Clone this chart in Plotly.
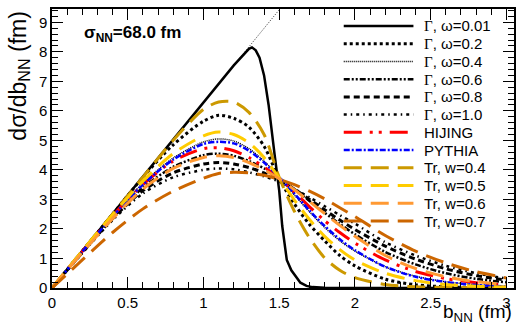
import plotly.graph_objects as go

# ---------------- data ----------------
B = [0, 0.2, 0.4, 0.6, 0.8, 1.0, 1.1, 1.2, 1.3, 1.4, 1.5, 1.6, 1.7, 1.8, 1.9, 2.0, 2.2, 2.4, 2.6, 2.8, 3.0]

B_G001 = [0, 0.2, 0.4, 0.6, 0.8, 1.0, 1.2, 1.3, 1.32, 1.345, 1.37, 1.40, 1.43, 1.47, 1.50, 1.52,
          1.55, 1.58, 1.61, 1.64, 1.68, 1.72, 1.8, 2.0, 2.5, 3.0]
G001 = [0, 1.26, 2.51, 3.77, 5.03, 6.28, 7.54, 8.1, 8.15, 8.05, 7.8, 7.2, 6.2, 4.5, 3.3, 2.1,
        0.95, 0.6, 0.38, 0.18, 0.07, 0.03, 0.01, 0, 0, 0]

G02 = [0, 1.25, 2.5, 3.75, 4.85, 5.65, 5.85, 5.75, 5.45, 4.8, 3.7, 2.85, 2.15, 1.6, 1.1, 0.75, 0.3, 0.11, 0.04, 0.02, 0.01]
G04 = [0, 1.24, 2.45, 3.55, 4.4, 4.95, 5.05, 4.98, 4.72, 4.3, 3.75, 3.15, 2.58, 2.05, 1.6, 1.25, 0.72, 0.4, 0.21, 0.11, 0.06]
G06 = [0, 1.22, 2.38, 3.4, 4.1, 4.5, 4.55, 4.48, 4.3, 4.05, 3.72, 3.35, 2.95, 2.55, 2.17, 1.82, 1.22, 0.8, 0.5, 0.31, 0.19]
G08 = [0, 1.2, 2.35, 3.3, 3.9, 4.2, 4.25, 4.2, 4.08, 3.9, 3.65, 3.35, 3.0, 2.65, 2.3, 1.98, 1.42, 0.98, 0.65, 0.42, 0.27]
G10 = [0, 1.18, 2.3, 3.2, 3.75, 4.0, 4.05, 4.02, 3.92, 3.78, 3.6, 3.35, 3.07, 2.77, 2.47, 2.18, 1.55, 1.1, 0.75, 0.5, 0.32]
HIJING = [0, 1.24, 2.44, 3.5, 4.3, 4.72, 4.75, 4.65, 4.42, 4.1, 3.72, 3.25, 2.75, 2.28, 1.88, 1.52, 0.95, 0.56, 0.32, 0.18, 0.1]
PYTHIA = [0, 1.23, 2.42, 3.5, 4.35, 4.88, 4.95, 4.9, 4.65, 4.25, 3.75, 3.2, 2.62, 2.1, 1.65, 1.28, 0.72, 0.38, 0.2, 0.1, 0.05]
TR04 = [0, 1.26, 2.5, 3.75, 5.0, 6.05, 6.3, 6.3, 5.95, 5.2, 3.75, 2.6, 1.7, 1.02, 0.6, 0.35, 0.12, 0.04, 0.02, 0.01, 0.0]
TR05 = [0, 1.25, 2.48, 3.62, 4.55, 5.15, 5.28, 5.2, 4.92, 4.42, 3.72, 2.98, 2.32, 1.75, 1.3, 0.95, 0.5, 0.25, 0.12, 0.06, 0.03]
TR06 = [0, 1.2, 2.35, 3.35, 4.05, 4.42, 4.48, 4.42, 4.25, 4.0, 3.7, 3.33, 2.93, 2.52, 2.12, 1.75, 1.1, 0.66, 0.38, 0.21, 0.12]
TR07 = [0, 0.95, 1.88, 2.68, 3.28, 3.72, 3.88, 3.92, 3.9, 3.82, 3.68, 3.5, 3.28, 3.02, 2.72, 2.42, 1.78, 1.25, 0.85, 0.55, 0.34]

# black-disk limit line (2*pi*b)
B_LIMIT = [0, 1.505]
Y_LIMIT = [0, 9.456]

X_TICKS = [0, 0.5, 1, 1.5, 2, 2.5, 3]
X_TICK_LABELS = ["0", "0.5", "1", "1.5", "2", "2.5", "3"]
Y_TICKS = [0, 1, 2, 3, 4, 5, 6, 7, 8, 9]
Y_TICK_LABELS = ["0", "1", "2", "3", "4", "5", "6", "7", "8", "9"]

GAM = "<span style='font-family:Liberation Serif'>Γ</span>"
NAMES = [GAM + ", ω=0.01", GAM + ", ω=0.2", GAM + ", ω=0.4", GAM + ", ω=0.6", GAM + ", ω=0.8",
         GAM + ", ω=1.0", "HIJING", "PYTHIA", "Tr, w=0.4", "Tr, w=0.5", "Tr, w=0.6", "Tr, w=0.7"]

# ---------------- styles ----------------
STYLES = [
    dict(color="black", width=2.5, dash="solid"),
    dict(color="black", width=3, dash="3px,3px"),
    dict(color="black", width=1.5, dash="1px,1px"),
    dict(color="black", width=2.5, dash="6px,2px,2px,2px,2px,2px"),
    dict(color="black", width=3, dash="6px,4px"),
    dict(color="black", width=2.5, dash="3px,4px,1.5px,4px"),
    dict(color="#FF0000", width=3, dash="18px,8px,3px,6px,3px,8px"),
    dict(color="#0000FF", width=2.5, dash="6px,2px,2px,2px"),
    dict(color="#CC9900", width=3, dash="18px,9px"),
    dict(color="#FFCC00", width=3, dash="18px,9px"),
    dict(color="#FF9933", width=3, dash="18px,9px"),
    dict(color="#CC6600", width=3, dash="18px,9px"),
]
SERIES = [G001, G02, G04, G06, G08, G10, HIJING, PYTHIA, TR04, TR05, TR06, TR07]

W, H = 523, 329
L, R, T, BOT = 52, 516, 8, 288


def px(x):
    return (x - L) / (R - L)


def py(y):
    return (BOT - y) / (BOT - T)


fig = go.Figure()
fig.add_trace(go.Scatter(x=B_LIMIT, y=Y_LIMIT, mode="lines",
                         line=dict(color="black", width=0.8, dash="1px,1.5px"),
                         showlegend=False, hoverinfo="skip"))
for i, (ys, st) in enumerate(zip(SERIES, STYLES)):
    xs = B_G001 if i == 0 else B
    fig.add_trace(go.Scatter(x=xs, y=ys, mode="lines", name=NAMES[i],
                             line=dict(color=st["color"], width=st["width"], dash=st["dash"],
                                       shape="linear" if i == 0 else "spline", smoothing=0.8),
                             showlegend=False))

# manual legend
shapes = []
annotations = []
ROW0, DROW = 25, 17.8
for i, st in enumerate(STYLES):
    yy = ROW0 + DROW * i
    shapes.append(dict(type="line", xref="paper", yref="paper", x0=px(345), x1=px(415),
                       y0=py(yy), y1=py(yy),
                       line=dict(color=st["color"], width=st["width"], dash=st["dash"])))
    annotations.append(dict(xref="paper", yref="paper", x=px(424), y=py(yy), text=NAMES[i],
                            showarrow=False, xanchor="left", yanchor="middle",
                            font=dict(size=15, color="black")))

annotations.append(dict(xref="paper", yref="paper", x=px(82), y=py(33),
                        text="<b>σ<sub>NN</sub>=68.0 fm</b>", showarrow=False,
                        xanchor="left", yanchor="middle", font=dict(size=17, color="black")))
annotations.append(dict(xref="paper", yref="paper", x=px(19), y=py(9),
                        text="dσ/db<sub>NN</sub> (fm)", textangle=-90, showarrow=False,
                        xanchor="center", yanchor="top", font=dict(size=23, color="black")))
annotations.append(dict(xref="paper", yref="paper", x=1.0, y=py(299),
                        text="b<sub>NN</sub> (fm)", showarrow=False,
                        xanchor="right", yanchor="top", font=dict(size=19, color="black")))

axis_common = dict(showgrid=False, zeroline=False, showline=True, linecolor="black", linewidth=1.5,
                   mirror="allticks", ticks="inside", ticklen=11, tickwidth=1.2, tickcolor="black",
                   tickfont=dict(size=15, color="black"))
fig.update_layout(
    width=W, height=H,
    margin=dict(l=L, r=W - R, t=T, b=H - BOT),
    paper_bgcolor="white", plot_bgcolor="white",
    font=dict(family="Liberation Sans, Arial, sans-serif", color="black"),
    xaxis=dict(range=[0, 3.05], tickvals=X_TICKS, ticktext=X_TICK_LABELS,
               minor=dict(dtick=0.1, ticks="inside", ticklen=6, tickwidth=1.2, tickcolor="black"),
               **axis_common),
    yaxis=dict(range=[0, 9.45], tickvals=Y_TICKS, ticktext=Y_TICK_LABELS,
               minor=dict(dtick=0.2, ticks="inside", ticklen=6, tickwidth=1.2, tickcolor="black"),
               **axis_common),
    shapes=shapes, annotations=annotations, showlegend=False,
)
fig.write_html("out.html", config={"displayModeBar": False},
               post_script="document.body.style.margin='0';document.body.style.overflow='hidden';")
